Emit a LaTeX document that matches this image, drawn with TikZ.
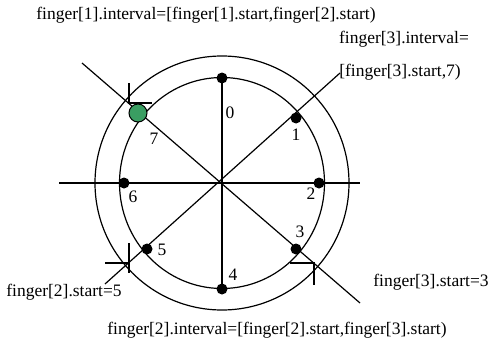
\documentclass[tikz,border=0pt]{standalone}
\usepackage{fontspec}
\setmainfont{Liberation Serif}
\usetikzlibrary{positioning}
\definecolor{fingergreen}{RGB}{58,158,98}

\begin{document}
\begin{tikzpicture}[
    x=1pt,
    y=1pt,
    font=\fontsize{17.5}{21}\selectfont,
    line width=1.2pt,
    dot/.style={
        circle,
        fill=black,
        inner sep=0pt,
        minimum size=11pt
    },
    greendot/.style={
        circle,
        draw=black,
        fill=fingergreen,
        line width=1pt,
        inner sep=0pt,
        minimum size=18pt
    },
    num/.style={inner sep=0pt},
    note/.style={inner sep=0pt}
]

\useasboundingbox (0,0) rectangle (490,349);

% Ring
\coordinate (c) at (222,166);
\draw (c) ellipse [x radius=102.5, y radius=105.5];
\draw (c) circle [radius=127];

% Spoke ends and finger positions
\coordinate (e7) at (82,286);
\coordinate (e3) at (360,46);
\coordinate (e1) at (340,276);
\coordinate (e5) at (105,65);
\coordinate (e6) at (59,166);
\coordinate (e2) at (360,166);

\coordinate (p0) at (222,271);
\coordinate (p1) at (296,231);
\coordinate (p2) at (319,166);
\coordinate (p3) at (296,100);
\coordinate (p4) at (222,60);
\coordinate (p5) at (147,100);
\coordinate (p6) at (124,166);
\coordinate (p7) at (138,236);

% Spokes
\draw (e7) -- (e3);
\draw (e1) -- (e5);
\draw (e6) -- (e2);
\draw (p0) -- (p4);

% Interval marks
\draw (129,266) -- (129,246) -- (152,246);
\draw (129,106) -- (129,76);
\draw (105,86) -- (129,86);
\draw (290,86) -- (314,86) -- (314,64);

% Fingers
\node[dot] (d0) at (p0) {};
\node[dot] (d1) at (p1) {};
\node[dot] (d2) at (p2) {};
\node[dot] (d3) at (p3) {};
\node[dot] (d4) at (p4) {};
\node[dot] (d5) at (p5) {};
\node[dot] (d6) at (p6) {};
\node[greendot] (d7) at (p7) {};

% Finger numbers
\node[num] (n0) at (230,236) {0};
\node[num] (n1) at (296,214) {1};
\node[num] (n2) at (311,155) {2};
\node[num] (n3) at (300,117) {3};
\node[num] (n4) at (233,74) {4};
\node[num] (n5) at (162,99) {5};
\node[num] (n6) at (133,152) {6};
\node[num] (n7) at (154,210) {7};

% Interval notes
\node[note] (int1) at (206,334) {finger[1].interval=[finger[1].start,finger[2].start)};
\node[note] (int3) at (404,310) {finger[3].interval=};
\node[note] (int3b) at (400,277) {[finger[3].start,7)};
\node[note] (start2) at (64,57) {finger[2].start=5};
\node[note] (start3) at (431,67) {finger[3].start=3};
\node[note] (int2) at (277,19) {finger[2].interval=[finger[2].start,finger[3].start)};

\end{tikzpicture}
\end{document}
